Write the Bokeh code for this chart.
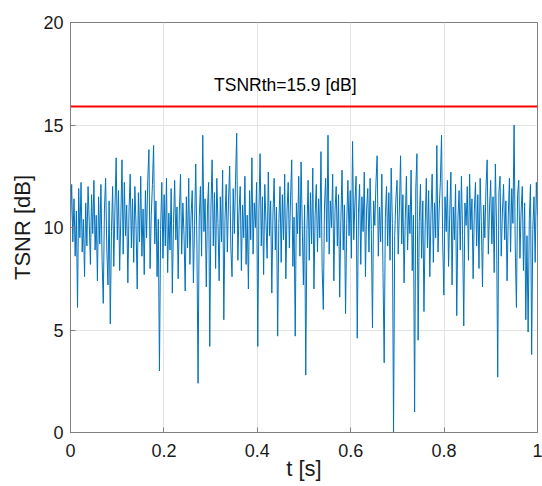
from bokeh.plotting import figure
from bokeh.models import Range1d, FixedTicker, Label
from bokeh.embed import file_html
from bokeh.resources import INLINE

# ---- data ----
tsnr = [
    10.2, 12.1, 9.3, 11.4, 8.6, 10.8, 6.1, 11.9, 9.5, 12.2, 8.8, 10.4, 7.6, 11.2, 9.1, 12.0, 10.3, 8.2, 11.6, 9.7,
    12.3, 8.9, 10.6, 7.4, 11.5, 9.2, 12.1, 8.4, 6.3, 10.9, 12.4, 9.0, 7.2, 11.3, 5.3, 9.8, 12.0, 8.1, 11.0, 13.4,
    9.4, 11.8, 7.9, 10.5, 13.3, 8.7, 12.2, 9.6, 11.1, 7.3, 10.8, 12.6, 9.0, 11.4, 8.3, 12.0, 10.1, 7.0, 11.7, 9.3,
    12.5, 8.6, 10.9, 7.7, 11.8, 9.5, 12.3, 13.8, 8.0, 10.6, 12.1, 14.0, 9.2, 11.3, 7.6, 10.4, 3.0, 9.9, 12.2, 8.5,
    11.6, 9.1, 12.4, 7.8, 10.7, 8.9, 11.9, 6.8, 10.2, 12.3, 9.4, 11.0, 7.5, 10.8, 12.6, 8.7, 11.2, 9.6, 6.9, 11.5,
    9.0, 12.4, 8.2, 10.6, 11.8, 7.3, 10.1, 13.1, 9.2, 2.4, 10.5, 12.0, 8.6, 14.5, 9.8, 11.4, 7.1, 10.9, 12.2, 4.2,
    11.0, 13.3, 9.1, 11.7, 8.0, 12.4, 10.2, 7.4, 11.5, 9.3, 12.8, 5.5, 10.4, 12.1, 8.8, 11.3, 13.0, 9.0, 7.6, 11.9,
    9.7, 12.3, 14.6, 8.4, 10.8, 12.0, 7.9, 11.1, 9.5, 12.5, 8.2, 10.6, 7.0, 11.8, 9.4, 13.4, 8.7, 11.2, 10.0, 12.2,
    4.2, 10.9, 13.6, 9.1, 11.5, 7.7, 12.1, 10.3, 8.5, 12.7, 9.6, 11.3, 6.8, 10.7, 12.4, 8.9, 11.0, 4.7, 10.2, 12.0,
    8.3, 11.6, 9.4, 12.6, 7.5, 10.8, 12.2, 9.0, 11.4, 13.3, 8.1, 10.5, 4.7, 11.2, 9.7, 12.5, 8.6, 13.2, 10.1, 7.2,
    11.1, 2.8, 9.9, 12.3, 8.4, 11.7, 9.2, 12.9, 7.0, 10.6, 12.1, 8.8, 11.4, 9.5, 13.7, 8.0, 6.0, 11.0, 12.4, 9.3,
    14.5, 8.7, 11.3, 10.0, 12.6, 7.4, 10.8, 12.0, 9.1, 11.6, 6.6, 10.4, 12.8, 8.9, 11.1, 5.8, 10.2, 12.3, 9.6, 11.8,
    8.5, 14.2, 9.4, 11.2, 12.5, 4.6, 10.7, 12.1, 8.2, 11.5, 9.8, 12.7, 7.6, 10.9, 11.9, 8.8, 12.4, 9.9, 5.1, 11.3,
    10.1, 12.2, 13.5, 8.6, 11.0, 9.3, 12.6, 7.8, 3.4, 10.5, 12.0, 9.1, 11.7, 8.4, 12.9, 10.2, 0.0, 9.6, 11.4, 12.3,
    8.7, 10.9, 13.5, 9.2, 11.6, 7.3, 10.4, 12.5, 8.9, 11.1, 9.7, 12.8, 7.9, 10.6, 1.0, 11.9, 13.6, 4.5, 10.3, 12.1,
    8.5, 11.3, 5.9, 10.0, 12.4, 9.0, 11.8, 7.6, 10.7, 12.6, 8.3, 11.2, 9.5, 14.0, 8.8, 10.9, 12.2, 14.5, 9.3, 6.7,
    11.5, 9.8, 12.3, 8.1, 10.6, 12.7, 7.2, 11.0, 9.4, 12.1, 5.7, 10.4, 11.8, 8.9, 12.5, 9.6, 5.2, 11.2, 10.1, 12.0,
    8.4, 12.6, 9.9, 11.4, 7.5, 10.8, 12.2, 9.1, 11.6, 8.0, 12.4, 10.3, 7.1, 11.1, 9.5, 12.0, 13.3, 8.7, 10.9, 12.3,
    9.2, 11.5, 7.8, 13.1, 10.0, 2.7, 11.7, 12.5, 8.6, 10.7, 12.1, 9.4, 11.3, 7.4, 10.5, 12.4, 8.8, 11.9, 10.2, 15.0,
    9.0, 6.1, 11.6, 12.3, 8.5, 10.8, 12.0, 7.9, 11.2, 5.5, 9.6, 4.9, 10.4, 12.1, 3.8, 9.9, 11.5, 8.3, 12.2, 10.6,
]
t_start, t_end = 0.0, 1.0
threshold = 15.9
threshold_label = "TSNRth=15.9 [dB]"
x_ticks = [0, 0.2, 0.4, 0.6, 0.8, 1]
x_tick_labels = ["0", "0.2", "0.4", "0.6", "0.8", "1"]
y_ticks = [0, 5, 10, 15, 20]
y_tick_labels = ["0", "5", "10", "15", "20"]

n = len(tsnr)
t = [t_start + (t_end - t_start) * i / (n - 1) for i in range(n)]

FONT = "Liberation Sans"
AX = "#808080"

p = figure(width=542, height=486, output_backend="svg", toolbar_location=None,
           x_range=Range1d(0, 1), y_range=Range1d(0, 20),
           min_border_left=70, min_border_right=5, min_border_top=22, min_border_bottom=54)
p.background_fill_color = "white"
p.border_fill_color = "white"
p.outline_line_color = AX
p.outline_line_width = 1

p.line(t, tsnr, line_color="#0072BD", line_width=1)
p.line([t_start, t_end], [threshold, threshold], line_color="#FF0000", line_width=2)

p.add_layout(Label(x=0.46, y=16.95, text=threshold_label, text_align="center",
                   text_baseline="middle", text_font=FONT, text_font_size="17.5px",
                   text_color="#000000"))

p.xaxis.ticker = FixedTicker(ticks=x_ticks)
p.yaxis.ticker = FixedTicker(ticks=y_ticks)
p.xgrid.ticker = FixedTicker(ticks=x_ticks)
p.ygrid.ticker = FixedTicker(ticks=y_ticks)
p.xaxis.major_label_overrides = {v: s for v, s in zip(x_ticks, x_tick_labels)}
p.yaxis.major_label_overrides = {v: s for v, s in zip(y_ticks, y_tick_labels)}

for ax in (p.xaxis[0], p.yaxis[0]):
    ax.axis_line_color = AX
    ax.major_tick_line_color = AX
    ax.major_tick_in = 5
    ax.major_tick_out = 0
    ax.minor_tick_line_color = None
    ax.major_label_text_font = FONT
    ax.major_label_text_font_size = "18px"
    ax.major_label_text_color = "#1a1a1a"
    ax.axis_label_text_font = FONT
    ax.axis_label_text_font_size = "22px"
    ax.axis_label_text_font_style = "normal"
    ax.axis_label_text_color = "#1a1a1a"

p.xaxis.axis_label = "t [s]"
p.yaxis.axis_label = "TSNR [dB]"
p.xaxis.major_label_standoff = 11
p.xaxis.axis_label_standoff = -4
p.yaxis.major_label_standoff = 7
p.yaxis.axis_label_standoff = 5

for g in (p.xgrid[0], p.ygrid[0]):
    g.grid_line_color = "#e3e3e3"
    g.grid_line_width = 1

open("out.html", "w").write(file_html(p, INLINE))
